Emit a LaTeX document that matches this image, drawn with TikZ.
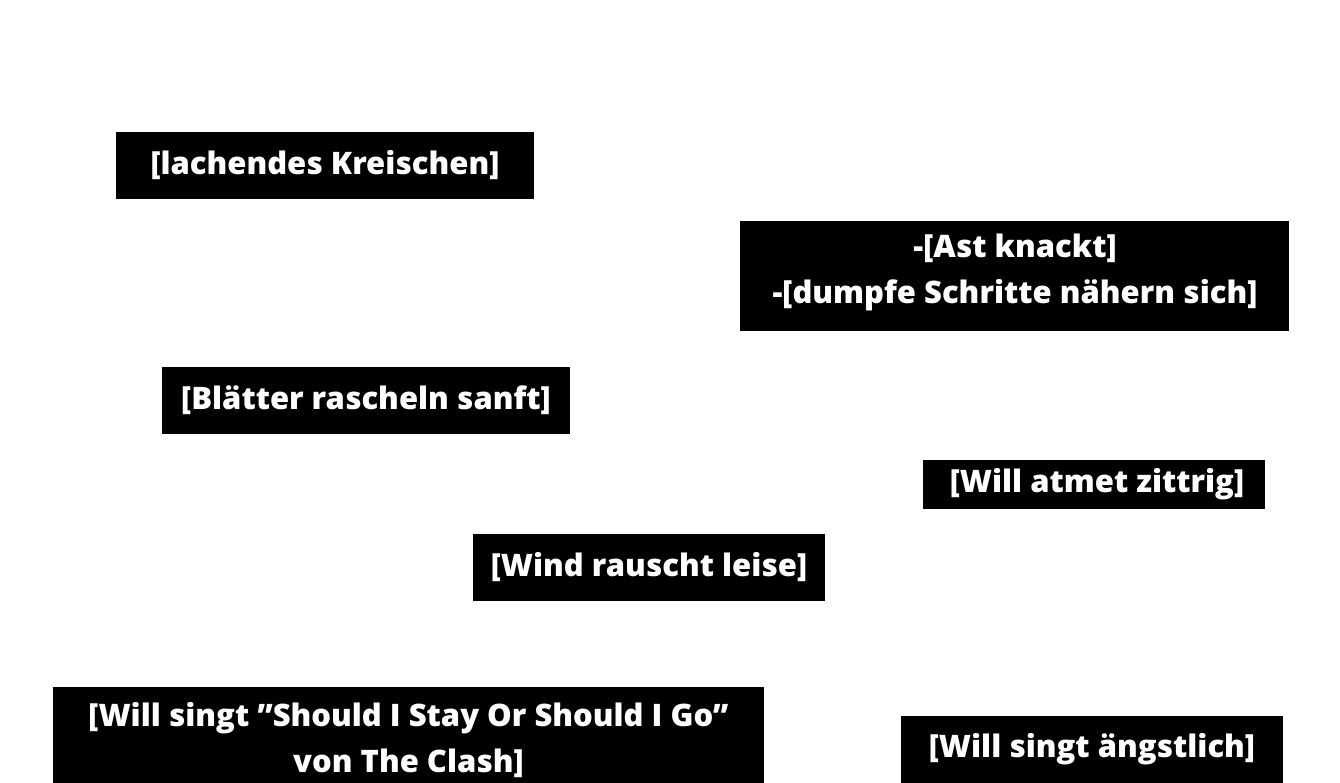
\documentclass[tikz,border=0pt]{standalone}
\usepackage{fontspec}
\setmainfont{Open Sans}[UprightFont=* Bold]
\begin{document}
\begin{tikzpicture}[x=1pt,y=-1pt,
  captxt/.style={fill=black,text=white,inner sep=0pt,align=center,font=\fontsize{31}{46}\selectfont\bfseries}]
\useasboundingbox[fill=white] (0,0) rectangle (1340,783);
\begin{scope}
\clip (0,0) rectangle (1340,783);
\fill (116,132) rectangle (534,199);
\node[captxt] (a) at (325,165.5) {[lachendes Kreischen]};
\fill (740,221) rectangle (1289,331);
\node[captxt] (b) at (1015,272) {-[Ast knackt]\\-[dumpfe Schritte nähern sich]};
\fill (162,367) rectangle (570,434);
\node[captxt] (c) at (366,400.5) {[Blätter rascheln sanft]};
\fill (923,460) rectangle (1265,509);
\node[captxt] (d) at (1097,484.5) {[Will atmet zittrig]};
\fill (473,534) rectangle (825,601);
\node[captxt] (e) at (649,567.5) {[Wind rauscht leise]};
\fill (53,687) rectangle (764,790);
\node[captxt] (f) at (408.5,740) {[Will singt "Should I Stay Or Should I Go"\\von The Clash]};
\fill (901,716) rectangle (1283,790);
\node[captxt] (g) at (1092,749.5) {[Will singt ängstlich]};
\end{scope}
\end{tikzpicture}
\end{document}
